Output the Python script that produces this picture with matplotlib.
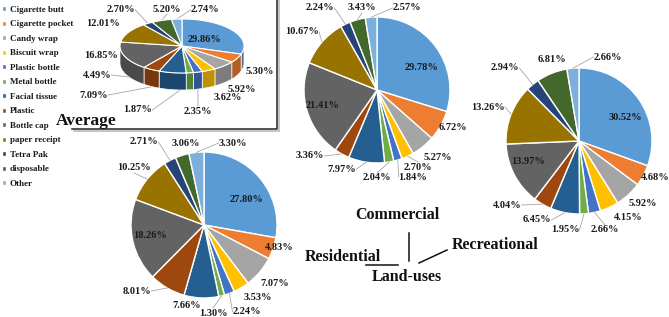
import matplotlib
matplotlib.use('Agg')
import matplotlib.pyplot as plt
import numpy as np
from matplotlib.patches import Polygon
from matplotlib.colors import to_rgb

# ---------------- data ----------------
categories = ['Cigarette butt', 'Cigarette pocket', 'Candy wrap', 'Biscuit wrap',
              'Plastic bottle', 'Metal bottle', 'Facial tissue', 'Plastic',
              'Bottle cap', 'paper receipt', 'Tetra Pak', 'disposable', 'Other']
average = [29.86, 5.30, 5.92, 3.62, 2.35, 1.87, 7.09, 4.49, 16.85, 12.01, 2.70, 5.20, 2.74]
commercial = [29.78, 6.72, 5.27, 2.70, 1.84, 2.04, 7.97, 3.36, 21.41, 10.67, 2.24, 3.43, 2.57]
recreational = [30.52, 4.68, 5.92, 4.15, 2.66, 1.95, 6.45, 4.04, 13.97, 13.26, 2.94, 6.81, 2.66]
residential = [27.80, 4.83, 7.07, 3.53, 2.24, 1.30, 7.66, 8.01, 18.26, 10.25, 2.71, 3.06, 3.30]
colors = ['#5B9BD5', '#ED7D31', '#A5A5A5', '#FFC000', '#4472C4', '#70AD47', '#255E91',
          '#9E480E', '#636363', '#997300', '#264478', '#43682B', '#7CAFDD']
land_use_labels = ['Commercial', 'Residential', 'Recreational', 'Land-uses']

# ---------------- layout (pixels, image coords y-down) ----------------
W, H = 669, 317
FONT = 'Liberation Serif'
LBL_PT = 7.5
LEADER = '#A6A6A6'

# label offsets relative to pie center, and leader-line flags
com_off = [(45, -23), (76, 38), (61, 68), (41, 77), (36, 87), (0, 88), (-35, 79),
           (-67, 66), (-54, 15), (-75, -58), (-57, -82), (-15, -82), (30, -82)]
com_lead = [0, 0, 0, 1, 1, 1, 1, 1, 0, 1, 1, 1, 1]
rec_off = [(46, -24), (76, 36), (64, 63), (49, 77), (26, 89), (-14, 89), (-42, 79),
           (-72, 64), (-51, 21), (-91, -34), (-74, -73), (-27, -81), (29, -84)]
rec_lead = [0, 0, 0, 0, 1, 1, 1, 1, 0, 1, 1, 0, 1]
res_off = [(43, -26), (75, 23), (71, 58), (54, 72), (43, 87), (9, 88), (-17, 80),
           (-67, 66), (-54, 10), (-70, -57), (-60, -83), (-18, -82), (29, -82)]
res_lead = [0, 0, 0, 0, 1, 1, 0, 1, 0, 1, 1, 0, 1]
avg_off = [(23, -7), (78, 26), (60, 43), (46, 51), (16, 65), (-44, 64), (-88, 49),
           (-85, 29), (-81, 9), (-79, -22), (-61, -36), (-15, -37), (23, -36)]
avg_lead = [0, 0, 0, 0, 1, 1, 1, 1, 0, 0, 1, 1, 1]

fig = plt.figure(figsize=(W / 100, H / 100), dpi=100)
ax = fig.add_axes([0, 0, 1, 1])
ax.set_xlim(0, W)
ax.set_ylim(0, H)
ax.axis('off')


def Y(y):
    return H - y


fontkw = dict(family=FONT, fontweight='bold', fontsize=LBL_PT, color='#1A1A1A')


def label_halfwidth(txt):
    em = LBL_PT * 100 / 72
    w = 0
    for ch in txt:
        w += 0.5 if ch.isdigit() else (0.25 if ch == '.' else 0.833)
    return w * em / 2


def leader(anchor, center, txt):
    axx, ayy = anchor
    lx, ly = center
    w = label_halfwidth(txt) + 1
    h = 5
    if axx > lx + w:
        end = (lx + w, ly)
    elif axx < lx - w:
        end = (lx - w, ly)
    else:
        end = (lx, ly - h if ayy < ly else ly + h)
    ax.plot([axx, end[0]], [Y(ayy), Y(end[1])], color=LEADER, lw=0.6, zorder=1)


def flat_pie(vals, cx, cy, r, offs, leads):
    wedges, _ = ax.pie(vals, colors=colors, startangle=90, counterclock=False,
                       center=(cx, Y(cy)), radius=r, frame=True,
                       wedgeprops=dict(edgecolor='white', linewidth=1.0))
    for w, v, (dx, dy), ld in zip(wedges, vals, offs, leads):
        txt = f'{v:.2f}%'
        lx, ly = cx + dx, cy + dy
        ax.text(lx, Y(ly), txt, ha='center', va='center', zorder=5, **fontkw)
        if ld:
            mid = np.deg2rad((w.theta1 + w.theta2) / 2)
            leader((cx + r * np.cos(mid), cy - r * np.sin(mid)), (lx, ly), txt)
    return wedges


def pie3d(vals, cx, cy, a, b, depth, offs, leads):
    vals = np.asarray(vals, float)
    ang = 90 - 360 * np.concatenate([[0], np.cumsum(vals)]) / vals.sum()
    for i in range(len(vals)):
        hi, lo = ang[i], ang[i + 1]
        # side band (front half: -180..0 deg)
        s_hi, s_lo = min(hi, 0), max(lo, -180)
        if s_hi > s_lo:
            t = np.deg2rad(np.linspace(s_lo, s_hi, 40))
            xs = cx + a * np.cos(t)
            ys = cy - b * np.sin(t)
            pts = [(x, Y(y)) for x, y in zip(xs, ys)] + \
                  [(x, Y(y + depth)) for x, y in zip(xs[::-1], ys[::-1])]
            dark = tuple(c * 0.75 for c in to_rgb(colors[i]))
            ax.add_patch(Polygon(pts, closed=True, facecolor=dark,
                                 edgecolor='white', lw=0.5, zorder=2))
    for i in range(len(vals)):
        hi, lo = ang[i], ang[i + 1]
        t = np.deg2rad(np.linspace(lo, hi, 60))
        pts = [(cx, Y(cy))] + [(cx + a * np.cos(tt), Y(cy - b * np.sin(tt))) for tt in t]
        ax.add_patch(Polygon(pts, closed=True, facecolor=colors[i],
                             edgecolor='white', lw=0.8, zorder=3))
    for i, (v, (dx, dy), ld) in enumerate(zip(vals, offs, leads)):
        txt = f'{v:.2f}%'
        lx, ly = cx + dx, cy + dy
        ax.text(lx, Y(ly), txt, ha='center', va='center', zorder=5, **fontkw)
        if ld:
            mid = np.deg2rad((ang[i] + ang[i + 1]) / 2)
            px, py = cx + a * np.cos(mid), cy - b * np.sin(mid)
            if np.sin(mid) < 0:
                py += depth * 0.6
            leader((px, py), (lx, ly), txt)


# pies
wedges = flat_pie(commercial, 377, 90, 73, com_off, com_lead)
flat_pie(recreational, 579, 141, 73, rec_off, rec_lead)
flat_pie(residential, 204, 225, 73, res_off, res_lead)
pie3d(average, 182, 46, 62, 27, 17, avg_off, avg_lead)

# average box
ax.plot([74, 279, 279], [Y(131), Y(131), Y(0)], color='#BBBBBB', lw=1.2, zorder=1)
ax.plot([72, 277, 277], [Y(129), Y(129), Y(0)], color='#222222', lw=1.1, zorder=2)
ax.text(86, Y(121), 'Average', ha='center', va='center', family=FONT,
        fontweight='bold', fontsize=12.5, color='#111111', zorder=6)

# land-use labels
lu_kw = dict(family=FONT, fontweight='bold', fontsize=11.5, color='#111111',
             ha='center', va='center')
ax.text(397, Y(215), land_use_labels[0], **lu_kw)
ax.text(343, Y(257), land_use_labels[1], **lu_kw)
ax.text(495, Y(245), land_use_labels[2], **lu_kw)
ax.text(407, Y(277), land_use_labels[3], **lu_kw)
ax.plot([409, 409], [Y(233), Y(261)], color='#111111', lw=1.1)
ax.plot([366, 398], [Y(265), Y(265)], color='#111111', lw=1.1)
ax.plot([419, 447], [Y(263), Y(250)], color='#111111', lw=1.1)

# legend
leg = ax.legend(wedges, categories, loc='upper left',
                bbox_to_anchor=(0.0, 1 - 4 / H), frameon=False,
                prop=dict(family=FONT, weight='bold', size=6.5),
                handlelength=0.45, handleheight=0.45, handletextpad=0.45,
                labelspacing=0.72, borderpad=0.0, borderaxespad=0.2)
for t in leg.get_texts():
    t.set_color('#1A1A1A')

ax.set_xlim(0, W)
ax.set_ylim(0, H)
ax.set_aspect('auto')
fig.savefig('out.png', dpi=100)
